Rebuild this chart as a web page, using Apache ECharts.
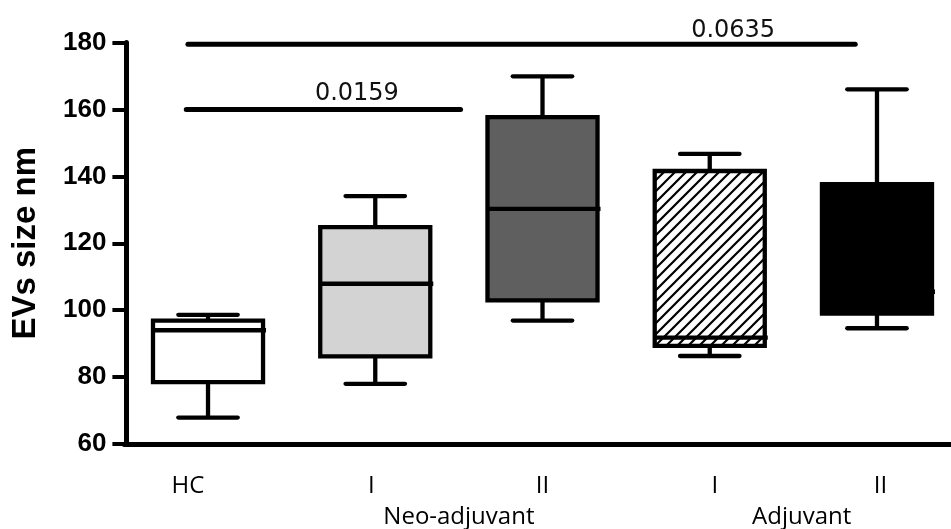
<!DOCTYPE html>
<html>
<head>
<meta charset="utf-8">
<script src="https://cdn.jsdelivr.net/npm/echarts@6/dist/echarts.min.js"></script>
<style>html,body{margin:0;padding:0;background:#fff}#c{width:951px;height:529px}</style>
</head>
<body>
<div id="c"></div>
<script>
// ---- data ----
const categories = ['HC', 'I', 'II', 'I', 'II'];
const groupLabels = ['Neo-adjuvant', 'Adjuvant'];
const groupPositions = [1.5, 3.55];
const whiskerMin = [67.9, 78.0, 96.9, 86.3, 94.6];
const q1 = [78.5, 86.2, 102.9, 89.3, 99.0];
const median = [94.0, 107.9, 130.3, 91.8, 105.5];
const q3 = [96.9, 124.8, 157.7, 141.6, 137.7];
const whiskerMax = [98.6, 134.1, 169.9, 146.7, 166.0];
const yTicks = [60, 80, 100, 120, 140, 160, 180];
const sigStart = [-0.12, -0.13];
const sigEnd = [3.87, 1.51];
const sigY = [179.5, 160];
const sigText = ['0.0635', '0.0159'];
const sigTextPos = [3.14, 0.89];

// ---- styles ----
function makeHatch() {
  const s = 11;
  const c = document.createElement('canvas');
  c.width = s; c.height = s;
  const g = c.getContext('2d');
  g.fillStyle = '#fff'; g.fillRect(0, 0, s, s);
  g.strokeStyle = '#000'; g.lineWidth = 2.2;
  g.beginPath();
  g.moveTo(-1, s + 1); g.lineTo(s + 1, -1);
  g.moveTo(-2, 2); g.lineTo(2, -2);
  g.moveTo(s - 2, s + 2); g.lineTo(s + 2, s - 2);
  g.stroke();
  return c;
}
const fills = ['#ffffff', '#d3d3d3', '#5f5f5f', {image: makeHatch(), repeat: 'repeat'}, '#000000'];
const sigTextOffset = [1, 4];

const boxData = categories.map((c, i) => [i, whiskerMin[i], q1[i], median[i], q3[i], whiskerMax[i]]);
const sigData = sigY.map((y, i) => [sigStart[i], sigEnd[i], y, sigTextPos[i]]);

function renderBox(params, api) {
  const i = api.value(0);
  const pMin = api.coord([i, api.value(1)]);
  const pQ1 = api.coord([i, api.value(2)]);
  const pMed = api.coord([i, api.value(3)]);
  const pQ3 = api.coord([i, api.value(4)]);
  const pMax = api.coord([i, api.value(5)]);
  const band = api.size([1, 0])[0];
  const bw = band * 0.658, half = bw / 2, cap = bw * 0.27;
  const x = pMax[0];
  const ls = {stroke: '#000', lineWidth: 4.3};
  const cs = {stroke: '#000', lineWidth: 4.3, lineCap: 'round'};
  return {
    type: 'group',
    children: [
      {type: 'line', shape: {x1: x, y1: pMax[1], x2: x, y2: pQ3[1]}, style: ls},
      {type: 'line', shape: {x1: x, y1: pQ1[1], x2: x, y2: pMin[1]}, style: ls},
      {type: 'line', shape: {x1: x - cap, y1: pMax[1], x2: x + cap, y2: pMax[1]}, style: cs},
      {type: 'line', shape: {x1: x - cap, y1: pMin[1], x2: x + cap, y2: pMin[1]}, style: cs},
      {type: 'rect', shape: {x: x - half, y: pQ3[1], width: bw, height: pQ1[1] - pQ3[1]},
        style: {fill: fills[params.dataIndex], stroke: '#000', lineWidth: 4.3}},
      {type: 'line', shape: {x1: x - half, y1: pMed[1], x2: x + half + 3, y2: pMed[1]}, style: ls}
    ]
  };
}

function renderSig(params, api) {
  const a = api.coord([api.value(0), api.value(2)]);
  const b = api.coord([api.value(1), api.value(2)]);
  const t = api.coord([api.value(3), api.value(2)]);
  return {
    type: 'group',
    children: [
      {type: 'line', shape: {x1: a[0], y1: a[1], x2: b[0], y2: b[1]},
        style: {stroke: '#000', lineWidth: 5, lineCap: 'round'}},
      {type: 'text', x: t[0], y: t[1] - sigTextOffset[params.dataIndex],
        style: {text: sigText[params.dataIndex], fill: '#111', font: '24px "DejaVu Sans"',
          textAlign: 'center', textVerticalAlign: 'bottom'}}
    ]
  };
}

const labelFont = {fontFamily: 'Open Sans', fontSize: 24, color: '#000'};
const chart = echarts.init(document.getElementById('c'), null, {renderer: 'canvas'});
chart.setOption({
  animation: false,
  backgroundColor: '#fff',
  grid: {left: 124.4, right: -9.6, top: 42.5, bottom: 85, containLabel: false, outerBoundsMode: 'none'},
  xAxis: [
    {
      type: 'category', data: categories, boundaryGap: true,
      axisLine: {show: true, onZero: false, lineStyle: {color: '#000', width: 5}},
      axisTick: {show: false},
      splitLine: {show: false},
      axisLabel: Object.assign({
        interval: 0, margin: 30,
        formatter: (v, i) => '{r' + i + '|' + v + '}',
        rich: {
          r0: Object.assign({padding: [0, 40, 0, 0]}, labelFont),
          r1: Object.assign({padding: [0, 8, 0, 0]}, labelFont),
          r2: Object.assign({}, labelFont),
          r3: Object.assign({padding: [0, 0, 0, 10]}, labelFont),
          r4: Object.assign({padding: [0, 0, 0, 7]}, labelFont)
        }
      }, labelFont)
    },
    {
      type: 'value', position: 'bottom', min: -0.5, max: 4.5,
      axisLine: {show: false, onZero: false}, axisTick: {show: false}, splitLine: {show: false},
      axisLabel: Object.assign({
        customValues: groupPositions, margin: 61,
        formatter: v => { const k = groupPositions.indexOf(v); return k >= 0 ? groupLabels[k] : ''; }
      }, labelFont)
    }
  ],
  yAxis: {
    type: 'value', min: yTicks[0], max: yTicks[yTicks.length - 1], interval: yTicks[1] - yTicks[0],
    offset: -2,
    axisLine: {show: true, onZero: false, lineStyle: {color: '#000', width: 5}},
    axisTick: {show: true, length: 14, lineStyle: {color: '#000', width: 4}},
    splitLine: {show: false},
    axisLabel: {margin: 20, color: '#000', fontFamily: 'Liberation Sans', fontWeight: 'bold', fontSize: 26},
    name: 'EVs size nm', nameLocation: 'middle', nameRotate: 90, nameGap: 84,
    nameTextStyle: {color: '#000', fontFamily: 'Liberation Sans', fontWeight: 'bold', fontSize: 33}
  },
  series: [
    {type: 'custom', xAxisIndex: 0, yAxisIndex: 0, data: boxData, renderItem: renderBox, clip: false},
    {type: 'custom', xAxisIndex: 1, yAxisIndex: 0, data: sigData, renderItem: renderSig, clip: false,
      encode: {x: [0, 1, 3], y: 2}}
  ]
});
</script>
</body>
</html>
